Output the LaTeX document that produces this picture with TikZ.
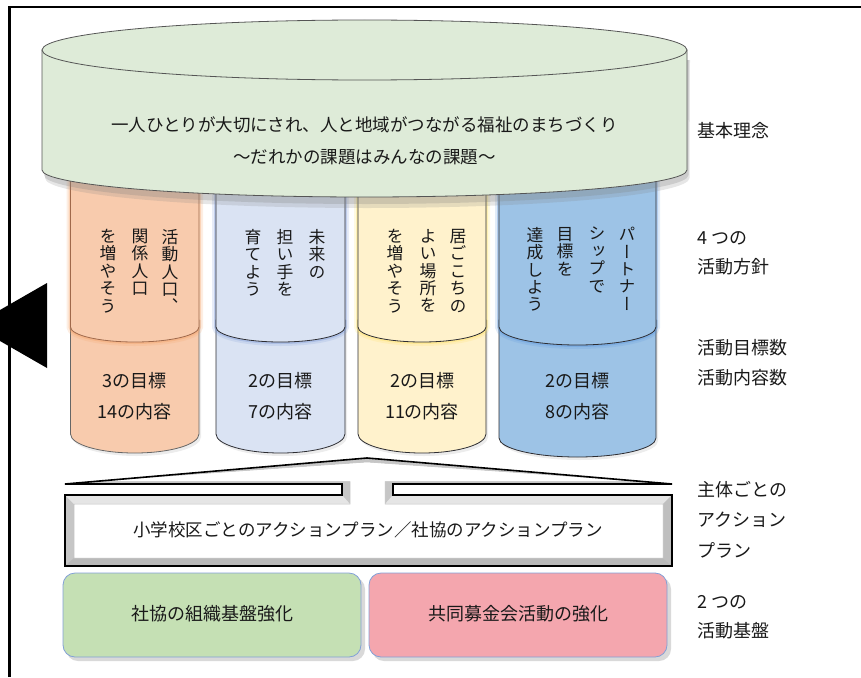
\documentclass[tikz,border=0pt]{standalone}
\usepackage{fontspec}
\setmainfont{Noto Sans CJK JP}
\newfontfamily\vjp[RawFeature={+vert}]{Noto Sans CJK JP}
\definecolor{topgreen}{RGB}{222,235,216}
\definecolor{cylline}{RGB}{85,85,85}
\definecolor{peach}{RGB}{248,203,173}
\definecolor{peachline}{RGB}{160,105,75}
\definecolor{peachglow}{RGB}{244,160,100}
\definecolor{paleblue}{RGB}{218,227,243}
\definecolor{paleblueglow}{RGB}{120,150,215}
\definecolor{paleyellow}{RGB}{255,242,204}
\definecolor{yellowglow}{RGB}{255,225,90}
\definecolor{midblue}{RGB}{157,195,230}
\definecolor{midblueglow}{RGB}{90,150,220}
\definecolor{darkline}{RGB}{45,45,50}
\definecolor{boxgreen}{RGB}{197,224,180}
\definecolor{boxpink}{RGB}{244,166,174}
\definecolor{boxline}{RGB}{130,160,215}
\definecolor{txt}{RGB}{25,25,25}
\newcommand\botarc[4]{.. controls ({#1-#3},{#2+0.5523*#4}) and ({#1-0.5523*#3},{#2+#4}) .. ({#1},{#2+#4}) .. controls ({#1+0.5523*#3},{#2+#4}) and ({#1+#3},{#2+0.5523*#4}) .. ({#1+#3},{#2})}
\tikzset{
  maintext/.style={font=\fontsize{17.5}{20}\selectfont, text=txt, inner sep=0pt},
  lab/.style={font=\fontsize{18}{20}\selectfont, text=txt, anchor=west, inner sep=0pt},
  vcol/.style={font=\vjp\fontsize{16.8}{17.4}\selectfont, text=txt, align=center, anchor=north, inner sep=0pt},
  cnt/.style={font=\fontsize{18}{20}\selectfont, text=txt, inner sep=0pt},
  glowwide/.style={draw=#1, line width=8pt, opacity=0.18},
  glownarrow/.style={draw=#1, line width=4pt, opacity=0.35},
}
\begin{document}
\begin{tikzpicture}[x=1pt,y=-1pt]
\useasboundingbox (0,0) rectangle (861,677);
\begin{scope}
\clip (0,0) rectangle (861,677);
% frame
\draw[line width=2.5pt] (9.5,677) -- (9.5,7) -- (861,7);
% black triangle
\fill (47,283) -- (47,368) -- (-27,325.5) -- cycle;

% ---------- lower parts of the columns ----------
\fill[gray, opacity=0.15] (72.5,320) -- (72.5,437) \botarc{136.75}{437}{64.25}{19} -- (201,320) -- cycle;
\filldraw[fill=peach, draw=gray!80!black, line width=0.8pt] (70.5,320) -- (70.5,434) \botarc{134.75}{434}{64.25}{19} -- (199,320) -- cycle;
\fill[gray, opacity=0.15] (218,320) -- (218,437) \botarc{282.5}{437}{64.5}{19} -- (347,320) -- cycle;
\filldraw[fill=paleblue, draw=darkline, line width=0.8pt] (216,320) -- (216,434) \botarc{280.5}{434}{64.5}{19} -- (345,320) -- cycle;
\fill[gray, opacity=0.15] (360,320) -- (360,437) \botarc{424}{437}{64}{19} -- (488,320) -- cycle;
\filldraw[fill=paleyellow, draw=darkline, line width=0.8pt] (358,320) -- (358,434) \botarc{422}{434}{64}{19} -- (486,320) -- cycle;
\fill[gray, opacity=0.15] (501,320) -- (501,441) \botarc{579.5}{441}{78.5}{19} -- (658,320) -- cycle;
\filldraw[fill=midblue, draw=darkline, line width=0.8pt] (499,320) -- (499,438) \botarc{577.5}{438}{78.5}{19} -- (656,320) -- cycle;

% ---------- upper parts of the columns ----------
\path[glowwide=peachglow] (70.5,150) -- (70.5,327) \botarc{134.75}{327}{64.25}{15} -- (199,150);
\path[glownarrow=peachglow] (70.5,150) -- (70.5,327) \botarc{134.75}{327}{64.25}{15} -- (199,150);
\filldraw[fill=peach, draw=peachline, line width=0.8pt] (70.5,150) -- (70.5,327) \botarc{134.75}{327}{64.25}{15} -- (199,150) -- cycle;

\path[glowwide=paleblueglow] (216,150) -- (216,327) \botarc{280.5}{327}{64.5}{15} -- (345,150);
\path[glownarrow=paleblueglow] (216,150) -- (216,327) \botarc{280.5}{327}{64.5}{15} -- (345,150);
\filldraw[fill=paleblue, draw=darkline, line width=0.8pt] (216,150) -- (216,327) \botarc{280.5}{327}{64.5}{15} -- (345,150) -- cycle;

\path[glowwide=yellowglow] (358,150) -- (358,327) \botarc{422}{327}{64}{15} -- (486,150);
\path[glownarrow=yellowglow] (358,150) -- (358,327) \botarc{422}{327}{64}{15} -- (486,150);
\filldraw[fill=paleyellow, draw=darkline, line width=0.8pt] (358,150) -- (358,327) \botarc{422}{327}{64}{15} -- (486,150) -- cycle;

\path[glowwide=midblueglow] (499,150) -- (499,327) \botarc{577.5}{327}{78.5}{18} -- (656,150);
\path[glownarrow=midblueglow] (499,150) -- (499,327) \botarc{577.5}{327}{78.5}{18} -- (656,150);
\filldraw[fill=midblue, draw=darkline, line width=0.8pt] (499,150) -- (499,327) \botarc{577.5}{327}{78.5}{18} -- (656,150) -- cycle;

% ---------- big cylinder ----------
\fill[gray, opacity=0.25] (44,60) -- (44,175) \botarc{366}{175}{322.5}{29} -- (689,60) -- cycle;
\fill[gray, opacity=0.2] (45,60) -- (45,178) \botarc{367}{178}{322.5}{30} -- (690,60) -- cycle;
\filldraw[fill=topgreen, draw=cylline, line width=0.8pt] (42,50) -- (42,170) \botarc{364.5}{170}{322.5}{27} -- (687,50) -- cycle;
\filldraw[fill=topgreen, draw=cylline, line width=0.8pt] (364.5,50) ellipse [x radius=322.5pt, y radius=30pt];

\node[maintext] (m1) at (364.5,125) {一人ひとりが大切にされ、人と地域がつながる福祉のまちづくり};
\node[maintext] (m2) at (364.5,157) {～だれかの課題はみんなの課題～};

% ---------- vertical texts ----------
\node[vcol] (c1a) at (170,229) {活\\動\\人\\口\\、};
\node[vcol] (c1b) at (140,229) {関\\係\\人\\口};
\node[vcol] (c1c) at (108,229) {を\\増\\や\\そ\\う};
\node[vcol] (c2a) at (317,229) {未\\来\\の};
\node[vcol] (c2b) at (285,229) {担\\い\\手\\を};
\node[vcol] (c2c) at (253,229) {育\\て\\よ\\う};
\node[vcol] (c3a) at (458,229) {居\\ご\\こ\\ち\\の};
\node[vcol] (c3b) at (428,229) {よ\\い\\場\\所\\を};
\node[vcol] (c3c) at (395,229) {を\\増\\や\\そ\\う};
\node[vcol] (c4a) at (627,227) {パ\\ー\\ト\\ナ\\ー};
\node[vcol] (c4b) at (597,227) {シ\\ッ\\プ\\で};
\node[vcol] (c4c) at (565,227) {目\\標\\を};
\node[vcol] (c4d) at (535,227) {達\\成\\し\\よ\\う};

% ---------- counts ----------
\node[cnt] (n1a) at (134.75,381) {3の目標};
\node[cnt] (n1b) at (134.75,412) {14の内容};
\node[cnt] (n2a) at (280.5,381) {2の目標};
\node[cnt] (n2b) at (280.5,412) {7の内容};
\node[cnt] (n3a) at (422,381) {2の目標};
\node[cnt] (n3b) at (422,412) {11の内容};
\node[cnt] (n4a) at (577.5,381) {2の目標};
\node[cnt] (n4b) at (577.5,412) {8の内容};

% ---------- action plan arrow box ----------
\fill[gray!45] (65,566) -- (65,495) -- (342,495) -- (342,484) -- (65,484) -- (367,458) -- (672,484) -- (393,484) -- (393,495) -- (672,495) -- (672,566) -- cycle;
\fill[gray!20] (65,495) -- (342,495) -- (350,504) -- (74,504) -- cycle;
\fill[gray!20] (393,495) -- (672,495) -- (663,504) -- (385,504) -- cycle;
\fill[gray!55] (65,566) -- (672,566) -- (663,558) -- (74,558) -- cycle;
\fill[gray!50] (672,566) -- (672,495) -- (663,504) -- (663,558) -- cycle;
\filldraw[fill=white, draw=gray!50, line width=0.5pt] (74,558) -- (74,504) -- (350,504) -- (350,481.5) -- (90,481.5) -- (367,462) -- (645,481.5) -- (385,481.5) -- (385,504) -- (663,504) -- (663,558) -- cycle;
\draw[line width=1.6pt, line join=miter] (65,566) -- (65,495) -- (342,495) -- (342,484) -- (65,484) -- (367,458) -- (672,484) -- (393,484) -- (393,495) -- (672,495) -- (672,566) -- cycle;
\node[maintext] (ap) at (368,530) {小学校区ごとのアクションプラン／社協のアクションプラン};

% ---------- bottom boxes ----------
\fill[gray, opacity=0.3, rounded corners=12pt] (66,577) rectangle (365,661);
\filldraw[fill=boxgreen, draw=boxline, line width=0.8pt, rounded corners=12pt] (63,573) rectangle (361,657);
\node[cnt] (b1) at (212,614) {社協の組織基盤強化};
\fill[gray, opacity=0.3, rounded corners=12pt] (372,577) rectangle (671,661);
\filldraw[fill=boxpink, draw=boxline, line width=0.8pt, rounded corners=12pt] (369,573) rectangle (667,657);
\node[cnt] (b2) at (518,614) {共同募金会活動の強化};

% ---------- right labels ----------
\node[lab] (l1) at (697,131) {基本理念};
\node[lab] (l2) at (697,238) {4 つの};
\node[lab] (l3) at (697,267) {活動方針};
\node[lab] (l4) at (697,348) {活動目標数};
\node[lab] (l5) at (697,378) {活動内容数};
\node[lab] (l6) at (697,490) {主体ごとの};
\node[lab] (l7) at (697,520) {アクション};
\node[lab] (l8) at (697,550) {プラン};
\node[lab] (l9) at (697,602) {2 つの};
\node[lab] (l10) at (697,631) {活動基盤};
\end{scope}
\end{tikzpicture}
\end{document}
